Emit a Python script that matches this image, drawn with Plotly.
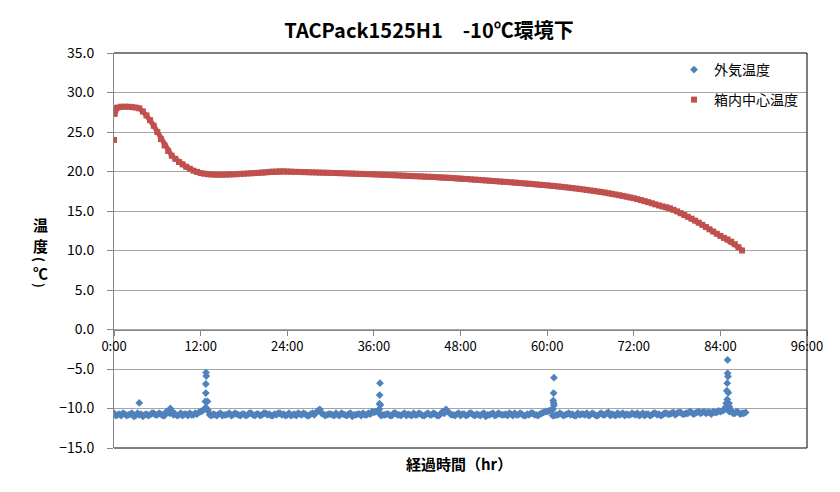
import plotly.graph_objects as go

# ---- data ----
title_text = "TACPack1525H1　-10℃環境下"
x_ticks = [0, 12, 24, 36, 48, 60, 72, 84, 96]
x_tick_labels = ["0:00", "12:00", "24:00", "36:00", "48:00", "60:00", "72:00", "84:00", "96:00"]

# 外気温度: readings every 0.5 h from 0:00
outside_step = 0.5
outside_vals = [
    -10.6, -10.8, -10.9, -10.7, -10.8, -10.6, -10.9, -10.8, -11.0, -10.7, -10.8, -10.6,
    -10.8, -10.7, -10.9, -10.5, -10.3, -10.7, -10.8, -10.9, -10.7, -10.6, -10.8, -10.7,
    -10.4, -10.1, -10.3, -10.9, -10.8, -10.7, -10.9, -10.8, -10.6, -10.8, -10.7, -10.9,
    -10.7, -10.8, -10.6, -10.9, -10.7, -10.8, -10.6, -10.7, -10.9, -10.8, -10.6, -10.7,
    -10.8, -10.9, -10.7, -10.6, -10.8, -10.7, -10.9, -10.6, -10.5, -10.1, -10.7, -10.8,
    -10.7, -10.9, -10.8, -10.6, -10.8, -10.7, -11.0, -10.8, -10.7, -10.6, -10.8, -10.7,
    -10.5, -10.3, -10.9, -10.8, -10.7, -10.9, -10.6, -10.8, -10.7, -10.9, -10.8, -10.6,
    -10.8, -10.7, -10.9, -10.6, -10.8, -10.7, -10.9, -10.4, -10.1, -10.6, -10.8, -10.7,
    -10.9, -10.7, -10.8, -10.6, -10.9, -10.8, -10.7, -11.0, -10.8, -10.6, -10.8, -10.7,
    -10.8, -10.9, -10.7, -10.6, -10.8, -10.7, -10.9, -10.8, -10.6, -10.8, -10.7, -10.5,
    -10.4, -10.2, -10.9, -10.8, -10.7, -10.8, -10.6, -10.7, -10.9, -10.8, -10.7, -10.6,
    -10.8, -10.7, -10.9, -10.6, -10.8, -10.5, -10.7, -10.9, -10.8, -10.6, -10.7, -10.8,
    -10.7, -10.6, -10.8, -10.9, -10.7, -10.8, -10.6, -10.7, -10.8, -10.6, -10.7, -10.5,
    -10.6, -10.5, -10.7, -10.6, -10.5, -10.6, -10.4, -10.5, -10.6, -10.5, -10.4, -10.5,
    -10.4, -10.2, -10.1, -10.3, -10.6, -10.5, -10.6, -10.5,
]
# 外気温度: readings in between (0.25 h, 0.75 h, ...)
outside_mid_start = 0.25
outside_mid_vals = [
    -10.9, -10.7, -10.6, -10.9, -10.7, -11.0, -10.6, -10.7, -10.8, -10.9, -10.6, -10.8,
    -10.6, -10.9, -10.4, -10.6, -10.8, -10.9, -10.6, -10.7, -10.9, -10.8, -10.6, -10.5,
    -10.3, -9.9, -10.8, -10.7, -10.9, -10.6, -10.8, -10.7, -10.9, -10.6, -10.8, -10.7,
    -10.9, -10.6, -10.8, -10.7, -10.9, -10.6, -10.8, -10.9, -10.7, -10.6, -10.8, -10.9,
    -10.6, -10.8, -10.9, -10.7, -10.6, -10.9, -10.7, -10.8, -10.3, -10.6, -10.9, -10.7,
    -10.8, -10.6, -10.9, -10.7, -10.9, -10.6, -10.8, -10.7, -10.9, -10.8, -10.6, -10.4,
    -10.4, -10.6, -10.8, -10.7, -10.9, -10.6, -10.8, -10.9, -10.6, -10.7, -10.9, -10.8,
    -10.6, -10.9, -10.7, -10.8, -10.6, -10.9, -10.7, -10.6, -10.4, -10.8, -10.9, -10.6,
    -10.7, -10.9, -10.6, -10.8, -10.7, -10.9, -10.6, -10.8, -10.7, -10.9, -10.6, -10.8,
    -10.7, -10.6, -10.9, -10.8, -10.6, -10.9, -10.7, -10.6, -10.8, -10.9, -10.6, -10.4,
    -10.3, -10.9, -10.8, -10.6, -10.9, -10.7, -10.8, -10.9, -10.6, -10.7, -10.8, -10.9,
    -10.6, -10.9, -10.7, -10.8, -10.6, -10.9, -10.8, -10.6, -10.7, -10.9, -10.8, -10.6,
    -10.8, -10.9, -10.6, -10.7, -10.9, -10.6, -10.8, -10.9, -10.6, -10.7, -10.6, -10.8,
    -10.5, -10.7, -10.6, -10.4, -10.7, -10.5, -10.6, -10.4, -10.5, -10.7, -10.5, -10.3,
    -10.3, -10.0, -10.4, -10.6, -10.4, -10.7, -10.6,
]
# 外気温度: extra readings around the door-opening spikes
spike_times = [3.5, 7.8,
               12.62, 12.65, 12.95, 12.72, 12.72, 12.78, 12.75, 13.0,
               36.75, 36.78, 36.9, 36.8, 36.85,
               60.8, 60.95, 60.85, 60.9, 60.9, 60.95,
               84.75, 85.25, 84.8, 85.2, 84.95, 85.1, 84.9, 84.95, 85.05, 85.0, 85.0]
spike_vals = [-9.3, -10.0,
              -9.95, -9.1, -9.1, -8.05, -6.9, -5.9, -5.45, -10.2,
              -10.1, -9.4, -9.55, -8.3, -6.8,
              -10.1, -9.6, -9.0, -9.3, -8.05, -6.1,
              -9.8, -9.8, -9.35, -9.35, -8.85, -8.0, -7.75, -6.8, -5.95, -5.55, -3.85]

# 箱内中心温度
inside_start_times = [0.0, 0.05, 0.1, 0.2, 0.3]
inside_start_vals = [24.0, None, 27.3, 27.8, 28.0]
inside_step = 0.5  # readings from 0.5 h onward
inside_vals = [
    28.1, 28.2, 28.2, 28.2, 28.15, 28.1, 28.0, 27.6, 27.1, 26.5, 25.8, 25.0,
    24.1, 23.3, 22.6, 22.0, 21.6, 21.2, 20.9, 20.6, 20.35, 20.1, 19.95, 19.8,
    19.72, 19.66, 19.62, 19.6, 19.6, 19.6, 19.6, 19.62, 19.64, 19.66, 19.7, 19.72,
    19.75, 19.77, 19.8, 19.83, 19.87, 19.9, 19.95, 19.98, 20.0, 20.02, 20.02, 20.0,
    19.98, 19.96, 19.95, 19.93, 19.92, 19.9, 19.89, 19.88, 19.86, 19.85, 19.84, 19.82,
    19.81, 19.8, 19.78, 19.77, 19.75, 19.74, 19.72, 19.7, 19.69, 19.67, 19.66, 19.64,
    19.62, 19.6, 19.58, 19.56, 19.54, 19.52, 19.5, 19.48, 19.46, 19.44, 19.42, 19.4,
    19.38, 19.36, 19.34, 19.32, 19.3, 19.27, 19.25, 19.22, 19.2, 19.17, 19.14, 19.1,
    19.07, 19.04, 19.0, 18.97, 18.94, 18.9, 18.87, 18.84, 18.8, 18.77, 18.73, 18.7,
    18.67, 18.63, 18.6, 18.56, 18.52, 18.49, 18.45, 18.41, 18.37, 18.33, 18.29, 18.25,
    18.2, 18.16, 18.11, 18.06, 18.01, 17.96, 17.9, 17.85, 17.79, 17.73, 17.67, 17.6,
    17.54, 17.47, 17.4, 17.33, 17.25, 17.17, 17.09, 17.0, 16.91, 16.82, 16.72, 16.62,
    16.5, 16.38, 16.25, 16.12, 15.98, 15.84, 15.7, 15.58, 15.47, 15.35, 15.15, 14.95,
    14.72, 14.5, 14.27, 14.03, 13.78, 13.52, 13.25, 12.97, 12.68, 12.4, 12.12, 11.85,
    11.6, 11.4, 11.12, 10.8, 10.42, 10.0,
]

# ---- build ----
outside_t = ([i * outside_step for i in range(len(outside_vals))]
             + [outside_mid_start + i * outside_step for i in range(len(outside_mid_vals))]
             + spike_times)
outside_y = outside_vals + outside_mid_vals + spike_vals
inside_t = inside_start_times + [(i + 1) * inside_step for i in range(len(inside_vals))]
inside_y = inside_start_vals + inside_vals

BLUE = "#4F81BD"
RED = "#C0504D"
FONT = "Noto Sans CJK JP"

fig = go.Figure()
fig.add_trace(go.Scatter(
    x=outside_t, y=outside_y, mode="markers", name="外気温度",
    marker=dict(symbol="diamond", size=6, color=BLUE), legend="legend"))
# dense readings drawn as a thick band, then the square markers (legend entry)
fig.add_trace(go.Scatter(
    x=inside_t, y=inside_y, mode="lines", name="箱内中心温度", showlegend=False,
    line=dict(color=RED, width=5), connectgaps=False, hoverinfo="skip"))
fig.add_trace(go.Scatter(
    x=inside_t, y=inside_y, mode="markers", name="箱内中心温度",
    marker=dict(symbol="square", size=6, color=RED), legend="legend2"))

W, H = 840, 492
OFF = 8  # page body margin in the browser
SL, ST, SR, SB = 114, 53, 807, 448  # plot area in screen pixels
pw, ph = SR - SL, SB - ST

def px(xs):
    return (xs - SL) / pw

def py(ys):
    return (SB - ys) / ph

fig.update_layout(
    width=W, height=H,
    margin=dict(l=SL - OFF, r=W - (SR - OFF), t=ST - OFF, b=H - (SB - OFF), pad=0),
    paper_bgcolor="white", plot_bgcolor="white",
    font=dict(family=FONT, size=13, color="#000000"),
    title=dict(text="<b>" + title_text + "</b>", x=px(429), xanchor="center",
               xref="paper", yref="container", y=1 - (31 - OFF) / H, yanchor="middle",
               font=dict(family=FONT, size=20, color="#000000")),
    xaxis=dict(range=[0, 96], tickvals=x_ticks, ticktext=x_tick_labels,
               showgrid=False, zeroline=False, showline=True, linecolor="#868686",
               linewidth=1, ticks="outside", ticklen=5, tickcolor="#868686",
               anchor="free", position=0.3,
               tickfont=dict(family=FONT, size=13, color="#000000")),
    yaxis=dict(range=[-15, 35], dtick=5, tick0=0, tickformat=".1f",
               showgrid=True, gridcolor="#A6A6A6", gridwidth=1, zeroline=False,
               showline=True, linecolor="#868686", linewidth=1,
               ticks="outside", ticklen=6, tickcolor="#868686", ticklabelstandoff=10,
               tickfont=dict(family=FONT, size=14, color="#000000")),
    legend=dict(x=px(674), y=py(70), xanchor="left", yanchor="middle",
                bgcolor="rgba(0,0,0,0)", font=dict(family=FONT, size=14)),
    legend2=dict(x=px(674), y=py(100), xanchor="left", yanchor="middle",
                 bgcolor="rgba(0,0,0,0)", font=dict(family=FONT, size=14)),
    showlegend=True,
)

# plot-area border (top, right, bottom)
for x0, y0, x1, y1 in [(0, 1, 1, 1), (1, 0, 1, 1), (0, 0, 1, 0)]:
    fig.add_shape(type="line", xref="paper", yref="paper", x0=x0, y0=y0, x1=x1, y1=y1,
                  line=dict(color="#000000", width=1))
# outer chart frame (left)
fig.add_shape(type="line", xref="paper", yref="paper", x0=px(7), x1=px(7),
              y0=py(0), y1=py(H + OFF), line=dict(color="#A0A0A0", width=1))

# vertical y-axis title: 温度（℃）, parentheses turned for vertical writing
for ch, ys, ang, fs in [("温", 224, 0, 15), ("度", 245, 0, 15), ("(", 259, 90, 13),
                        ("℃", 272, 0, 15), (")", 285, 90, 13)]:
    fig.add_annotation(text="<b>" + ch + "</b>", xref="paper", yref="paper",
                       x=px(40), y=py(ys), showarrow=False, xanchor="center", yanchor="middle",
                       textangle=ang, font=dict(family=FONT, size=fs, color="#000000"))
fig.add_annotation(text="<b>経過時間（hr）</b>", xref="paper", yref="paper",
                   x=px(459), y=py(463), showarrow=False, xanchor="center", yanchor="middle",
                   font=dict(family=FONT, size=15, color="#000000"))

fig.write_html("out.html")
